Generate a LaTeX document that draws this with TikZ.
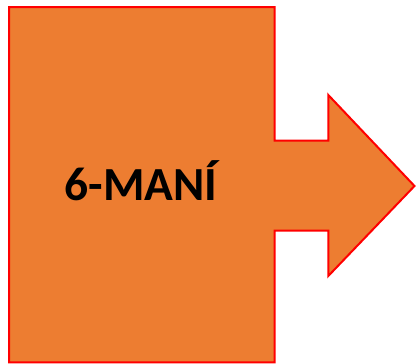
\documentclass[tikz,border=0pt]{standalone}
\usepackage{fontspec}
\setmainfont{Carlito}
\definecolor{shapeorange}{HTML}{ED7D31}
\definecolor{edgered}{HTML}{FF0000}
\tikzset{
  bigshape/.style={fill=shapeorange, draw=edgered, line width=2pt, line join=miter},
  label/.style={font=\fontsize{47.5}{56}\selectfont\bfseries, text=black, inner sep=0pt}
}
\begin{document}
\begin{tikzpicture}[x=1pt,y=-1pt]
\useasboundingbox (0,0) rectangle (416,364);
\draw[bigshape] (9,7) -- (274.5,7) -- (274.5,140.7) -- (328.3,140.7) -- (328.3,95)
  -- (414.5,186) -- (328.3,276) -- (328.3,230.7) -- (274.5,230.7) -- (274.5,362.3)
  -- (9,362.3) -- cycle;
\node[label, anchor=base] (t) at (141,200.7) {6-MANÍ};
\end{tikzpicture}
\end{document}
